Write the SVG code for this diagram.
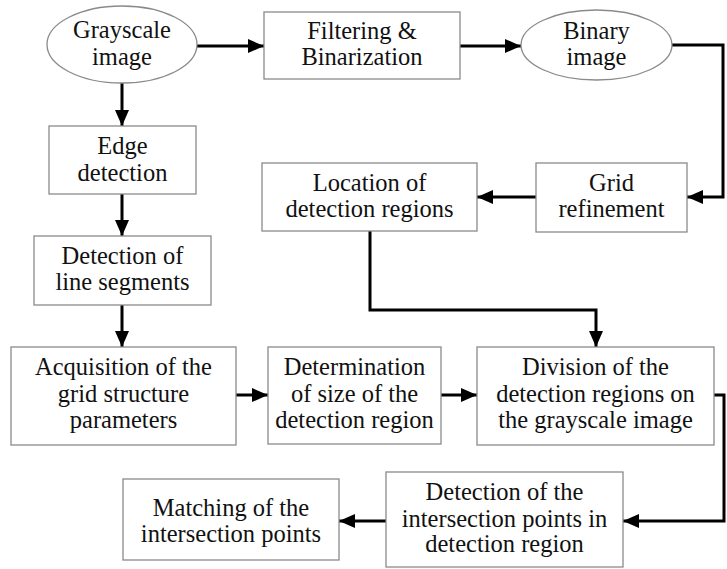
<svg xmlns="http://www.w3.org/2000/svg" width="727" height="569" viewBox="0 0 727 569" font-family="Liberation Serif, Times New Roman, serif">
<style>
.box{fill:#fff;stroke:#8a8a8a;stroke-width:1.3}
.t{font-size:24.5px;fill:#111;text-anchor:middle}
.c{fill:none;stroke:#000;stroke-width:3}
</style>
<defs>
<marker id="ah" markerUnits="userSpaceOnUse" markerWidth="18" markerHeight="16" refX="16" refY="7" orient="auto">
<path d="M0,0 L16,7 L0,14 Z" fill="#000"/>
</marker>
</defs>
<g id="connectors">
<path class="c" d="M197,46 H264" marker-end="url(#ah)"/>
<path class="c" d="M460,46 H521" marker-end="url(#ah)"/>
<path class="c" d="M672,45 H723 V197 H687" marker-end="url(#ah)"/>
<path class="c" d="M536,197 H477" marker-end="url(#ah)"/>
<path class="c" d="M122,83 V126" marker-end="url(#ah)"/>
<path class="c" d="M122,194 V236" marker-end="url(#ah)"/>
<path class="c" d="M122,305 V347" marker-end="url(#ah)"/>
<path class="c" d="M370,231 V310 H596 V347" marker-end="url(#ah)"/>
<path class="c" d="M236,395 H268" marker-end="url(#ah)"/>
<path class="c" d="M441,395 H477" marker-end="url(#ah)"/>
<path class="c" d="M714,395 H724 V521 H623" marker-end="url(#ah)"/>
<path class="c" d="M386,521 H339" marker-end="url(#ah)"/>
</g>
<g id="grayscale">
<ellipse class="box" cx="122" cy="44.5" rx="75" ry="38.5"/>
<text class="t" x="122" y="38">Grayscale</text>
<text class="t" x="122" y="64.5">image</text>
</g>
<g id="filtering">
<rect class="box" x="264" y="12" width="196" height="67"/>
<text class="t" x="362" y="38.5">Filtering &amp;</text>
<text class="t" x="362" y="65">Binarization</text>
</g>
<g id="binary">
<ellipse class="box" cx="596.5" cy="45" rx="75.5" ry="35"/>
<text class="t" x="596.5" y="38.5">Binary</text>
<text class="t" x="596.5" y="65">image</text>
</g>
<g id="edge">
<rect class="box" x="49" y="126" width="147" height="68"/>
<text class="t" x="122.5" y="154">Edge</text>
<text class="t" x="122.5" y="180.5">detection</text>
</g>
<g id="location">
<rect class="box" x="262" y="163" width="215" height="68"/>
<text class="t" x="369.5" y="191">Location of</text>
<text class="t" x="369.5" y="217">detection regions</text>
</g>
<g id="grid">
<rect class="box" x="536" y="163" width="151" height="69"/>
<text class="t" x="611.5" y="191">Grid</text>
<text class="t" x="611.5" y="217">refinement</text>
</g>
<g id="segments">
<rect class="box" x="34" y="236" width="177" height="69"/>
<text class="t" x="122.5" y="264">Detection of</text>
<text class="t" x="122.5" y="290">line segments</text>
</g>
<g id="acquisition">
<rect class="box" x="11" y="347" width="225" height="98"/>
<text class="t" x="123.5" y="375">Acquisition of the</text>
<text class="t" x="123.5" y="401.5">grid structure</text>
<text class="t" x="123.5" y="428">parameters</text>
</g>
<g id="determination">
<rect class="box" x="268" y="347" width="173" height="97"/>
<text class="t" x="354.5" y="375">Determination</text>
<text class="t" x="354.5" y="401.5">of size of the</text>
<text class="t" x="354.5" y="428">detection region</text>
</g>
<g id="division">
<rect class="box" x="477" y="347" width="237" height="98"/>
<text class="t" x="595.5" y="375">Division of the</text>
<text class="t" x="595.5" y="401.5">detection regions on</text>
<text class="t" x="595.5" y="428">the grayscale image</text>
</g>
<g id="intersection">
<rect class="box" x="386" y="472" width="237" height="95"/>
<text class="t" x="504.5" y="500">Detection of the</text>
<text class="t" x="504.5" y="526.5">intersection points in</text>
<text class="t" x="504.5" y="552">detection region</text>
</g>
<g id="matching">
<rect class="box" x="123" y="479" width="216" height="81"/>
<text class="t" x="231" y="515.5">Matching of the</text>
<text class="t" x="231" y="541.5">intersection points</text>
</g>
</svg>
